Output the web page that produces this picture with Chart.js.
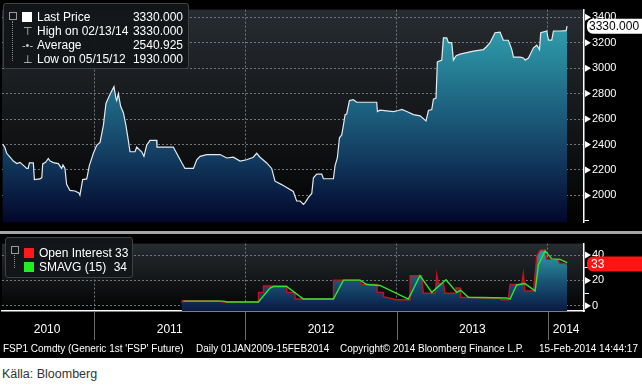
<!DOCTYPE html>
<html lang="sv">
<head>
<meta charset="UTF-8">
<title>FSP1 Comdty</title>
<script src="https://cdn.jsdelivr.net/npm/chart.js@4.4.1/dist/chart.umd.min.js"></script>
<style>
  body { margin: 0; background: #fff; font-family: "Liberation Sans", Arial, sans-serif; }
  #wrap { position: relative; width: 642px; height: 358px; background: #000; overflow: hidden; }
  #top { position: absolute; left: 0; top: 0; }
  #bar { position: absolute; left: 0; top: 231px; width: 642px; height: 3px; background: #a4a4a4; }
  #bottom { position: absolute; left: 0; top: 234px; }
  .legend { position: absolute; background: rgba(19, 22, 25, 0.96); border: 1px solid #3d4247; border-radius: 3px; color: #fff; font-size: 12px; }
  .row { position: absolute; left: 0; right: 0; height: 14px; line-height: 14px; white-space: nowrap; }
  .row .g { position: absolute; left: 17px; width: 13px; text-align: center; color: #c8c8c8; font-size: 11px; }
  .row .sq { position: absolute; left: 18px; top: 2px; width: 10px; height: 10px; }
  .row .t { position: absolute; left: 33px; }
  .row .v { position: absolute; right: 5px; }
  .tree { position: absolute; left: 8px; width: 6px; border-left: 1px dotted #8a8a8a; }
  .box { position: absolute; left: 5px; width: 6px; height: 6px; border: 1px solid #9a9a9a; }
  #foot { position: absolute; left: 0; top: 342px; width: 642px; height: 14px; color: #fff; font-size: 10px; line-height: 14px; white-space: nowrap; }
  #foot span { position: absolute; top: 0; }
  #src { position: absolute; left: 2px; top: 367px; font-size: 12.5px; color: #333; }
</style>
</head>
<body>
<div id="wrap">
  <canvas id="top" width="642" height="232"></canvas>
  <div id="bar"></div>
  <canvas id="bottom" width="642" height="107"></canvas>

  <div class="legend" style="left:3px; top:3px; width:184px; height:64px;">
    <div class="box" style="top:8px;"></div>
    <div class="tree" style="top:17px; height:40px;"></div>
    <div class="row" style="top:6px;"><span class="sq" style="background:#fff;"></span><span class="t">Last Price</span><span class="v">3330.000</span></div>
    <div class="row" style="top:20px;"><span class="g">⊤</span><span class="t">High on 02/13/14</span><span class="v">3330.000</span></div>
    <div class="row" style="top:34px;"><span class="g">-•-</span><span class="t">Average</span><span class="v">2540.925</span></div>
    <div class="row" style="top:48px;"><span class="g">⊥</span><span class="t">Low on 05/15/12</span><span class="v">1930.000</span></div>
  </div>

  <div class="legend" style="left:5px; top:237px; width:126px; height:39px;">
    <div class="box" style="top:8px;"></div>
    <div class="tree" style="top:17px; height:13px;"></div>
    <div class="row" style="top:8px;"><span class="sq" style="background:#ff1a1a;"></span><span class="t">Open Interest 33</span></div>
    <div class="row" style="top:22px;"><span class="sq" style="background:#22ee22;"></span><span class="t">SMAVG (15)</span><span class="v">34</span></div>
  </div>

  <div id="foot">
    <span style="left:3px;">FSP1 Comdty (Generic 1st 'FSP' Future)</span>
    <span style="left:196px;">Daily 01JAN2009-15FEB2014</span>
    <span style="left:340px;">Copyright© 2014 Bloomberg Finance L.P.</span>
    <span style="right:4px;">15-Feb-2014 14:44:17</span>
  </div>
</div>
<div id="src">Källa: Bloomberg</div>

<script>
  // time is kept as fractional years
  const xMin = 2010.392;
  const xMax = 2014.238;
  const yearStarts = [2011, 2012, 2013, 2014];
  const yearLabelAt = [2010.69, 2011.5, 2012.5, 2013.5, 2014.12];

  // FSP1 last price
  const priceYears = [
    2010.396, 2010.410, 2010.423, 2010.445, 2010.467, 2010.490, 2010.511, 2010.530, 2010.555, 2010.565,
    2010.573, 2010.599, 2010.606, 2010.643, 2010.655, 2010.661, 2010.680, 2010.698, 2010.710, 2010.731,
    2010.764, 2010.786, 2010.795, 2010.808, 2010.819, 2010.841, 2010.874, 2010.900, 2010.907, 2010.925,
    2010.952, 2010.969, 2010.996, 2011.018, 2011.040, 2011.062, 2011.079, 2011.106, 2011.132, 2011.145,
    2011.150, 2011.161, 2011.176, 2011.194, 2011.211, 2011.227, 2011.238, 2011.271, 2011.282, 2011.315,
    2011.330, 2011.348, 2011.370, 2011.414, 2011.416, 2011.524, 2011.546, 2011.579, 2011.601, 2011.657,
    2011.679, 2011.701, 2011.745, 2011.833, 2011.877, 2011.921, 2011.965, 2012.009, 2012.053, 2012.075,
    2012.097, 2012.141, 2012.174, 2012.196, 2012.240, 2012.273, 2012.317, 2012.339, 2012.362, 2012.384,
    2012.395, 2012.417, 2012.439, 2012.450, 2012.472, 2012.505, 2012.516, 2012.582, 2012.593, 2012.608,
    2012.622, 2012.637, 2012.648, 2012.659, 2012.670, 2012.688, 2012.714, 2012.736, 2012.868, 2012.873,
    2012.890, 2012.934, 2012.978, 2013.012, 2013.034, 2013.067, 2013.111, 2013.155, 2013.194, 2013.210,
    2013.232, 2013.243, 2013.260, 2013.269, 2013.298, 2013.309, 2013.331, 2013.342, 2013.364, 2013.375,
    2013.393, 2013.419, 2013.463, 2013.507, 2013.573, 2013.595, 2013.617, 2013.650, 2013.683, 2013.705,
    2013.738, 2013.761, 2013.772, 2013.816, 2013.838, 2013.849, 2013.871, 2013.904, 2013.926, 2013.944,
    2013.952, 2013.992, 2014.003, 2014.025, 2014.036, 2014.080, 2014.120, 2014.126
  ];
  const priceValues = [
    2404, 2380, 2331, 2300, 2270, 2250, 2260, 2240, 2212, 2212,
    2255, 2255, 2124, 2130, 2140, 2248, 2260, 2290, 2270, 2258,
    2250, 2212, 2240, 2212, 2088, 2039, 2035, 2020, 2002, 2124,
    2130, 2234, 2331, 2394, 2416, 2550, 2722, 2795, 2854, 2760,
    2745, 2800, 2700, 2650, 2550, 2430, 2343, 2343, 2380, 2343,
    2307, 2394, 2433, 2433, 2380, 2380, 2331, 2258, 2212, 2212,
    2280, 2307, 2321, 2321, 2294, 2300, 2270, 2280, 2300, 2331,
    2300, 2255, 2212, 2112, 2085, 2063, 2031, 1956, 1956, 1930,
    1944, 1985, 2015, 2139, 2168, 2168, 2131, 2131, 2234, 2294,
    2453, 2475, 2550, 2635, 2640, 2745, 2752, 2732, 2732, 2659,
    2670, 2664, 2659, 2667, 2675, 2659, 2635, 2625, 2586, 2667,
    2675, 2757, 2765, 3049, 3063, 3238, 3238, 3200, 3200, 3063,
    3097, 3110, 3122, 3134, 3146, 3170, 3200, 3278, 3283, 3219,
    3219, 3146, 3087, 3087, 3080, 3063, 3080, 3160, 3180, 3146,
    3278, 3292, 3220, 3220, 3292, 3292, 3295, 3330
  ];
  const priceMajor = [2000, 2200, 2400, 2600, 2800, 3000, 3200, 3400];
  const priceMinor = [1800, 1900, 2100, 2300, 2500, 2700, 2900, 3100, 3300];

  // open interest and its 15 day moving average
  const oiYears = [
    2011.579, 2011.583, 2011.833, 2011.844, 2012.086, 2012.087, 2012.119, 2012.120, 2012.273, 2012.274,
    2012.328, 2012.329, 2012.582, 2012.583, 2012.758, 2012.765, 2012.870, 2012.871, 2012.912, 2012.913,
    2013.000, 2013.088, 2013.089, 2013.165, 2013.176, 2013.255, 2013.265, 2013.276, 2013.309, 2013.320,
    2013.386, 2013.392, 2013.419, 2013.423, 2013.474, 2013.683, 2013.690, 2013.738, 2013.749, 2013.826,
    2013.837, 2013.848, 2013.904, 2013.926, 2013.948, 2013.981, 2013.992, 2014.069, 2014.075, 2014.126
  ];
  const oiValues = [
    2.5, 4.1, 4.1, 3.0, 3.0, 10.6, 10.6, 15.6, 15.6, 10.6,
    10.6, 5.3, 5.3, 20.2, 20.2, 16.8, 16.8, 10.6, 10.6, 7.1,
    4.8, 4.8, 23.7, 23.7, 9.9, 9.9, 24.6, 17.5, 17.5, 9.9,
    9.9, 14.0, 14.0, 6.7, 6.5, 6.0, 4.8, 4.8, 16.8, 16.8,
    25.5, 11.7, 11.7, 39.3, 43.9, 43.9, 36.6, 36.6, 33.6, 33
  ];
  const smaYears = [
    2011.590, 2011.855, 2011.877, 2012.086, 2012.163, 2012.185, 2012.273, 2012.383, 2012.582, 2012.648,
    2012.758, 2012.802, 2012.890, 2013.077, 2013.154, 2013.232, 2013.326, 2013.397, 2013.423, 2013.474,
    2013.727, 2013.749, 2013.793, 2013.848, 2013.915, 2013.937, 2013.981, 2014.025, 2014.080, 2014.126
  ];
  const smaValues = [
    3.7, 3.7, 3.0, 3.0, 14.0, 15.2, 15.2, 5.3, 5.3, 20.2,
    20.2, 16.8, 16.0, 5.3, 23.7, 10.6, 20.5, 10.6, 12.2, 6.7,
    6.2, 5.3, 16.4, 17.5, 11.7, 32.4, 43.4, 37.0, 36.6, 34
  ];
  const oiMajor = [0, 20, 40];
  const oiMinor = [10, 30];

  const GRID = '#6f767c';
  Chart.defaults.font.family = '"Liberation Sans", Arial, sans-serif';
  Chart.defaults.font.size = 11;
  Chart.defaults.color = '#ffffff';

  const pts = (xs, ys) => xs.map((x, i) => ({ x: x, y: ys[i] }));

  function vGradient(stops) {
    return function (c) {
      const a = c.chart.chartArea;
      if (!a) return 'transparent';
      const g = c.chart.ctx.createLinearGradient(0, a.top, 0, a.bottom);
      stops.forEach(s => g.addColorStop(s[0], s[1]));
      return g;
    };
  }

  // panel background, tick arrows, year separators and last value tag
  const panel = {
    id: 'panel',
    beforeDraw(chart) {
      const { ctx, chartArea: a, width, height } = chart;
      ctx.save();
      ctx.fillStyle = '#000';
      ctx.fillRect(0, 0, width, height);
      const g = ctx.createLinearGradient(0, a.top, 0, a.bottom);
      g.addColorStop(0, '#272c31');
      g.addColorStop(0.55, '#131517');
      g.addColorStop(1, '#020202');
      ctx.fillStyle = g;
      ctx.fillRect(a.left, a.top, a.right - a.left, a.bottom - a.top);
      ctx.restore();
    },
    afterDraw(chart, args, o) {
      const { ctx, chartArea: a, height } = chart;
      const ys = chart.scales.y;
      ctx.save();
      ctx.fillStyle = '#fff';
      o.major.forEach(v => {
        const p = ys.getPixelForValue(v);
        ctx.beginPath();
        ctx.moveTo(a.right + 1, p - 3.5);
        ctx.lineTo(a.right + 7, p);
        ctx.lineTo(a.right + 1, p + 3.5);
        ctx.closePath();
        ctx.fill();
      });
      if (o.separators) {
        const xs = chart.scales.x;
        ctx.strokeStyle = '#6a6a6a';
        ctx.lineWidth = 1;
        yearStarts.forEach(v => {
          const p = Math.round(xs.getPixelForValue(v)) + 0.5;
          ctx.beginPath();
          ctx.moveTo(p, a.bottom + 1);
          ctx.lineTo(p, height - 1);
          ctx.stroke();
        });
      }
      const p = ys.getPixelForValue(o.tagValue);
      ctx.fillStyle = o.tagBg;
      ctx.beginPath();
      ctx.roundRect(a.right + 3, p - 7.5, 70, 15, 6);
      ctx.fill();
      ctx.fillStyle = o.tagColor;
      ctx.font = '12px "Liberation Sans", Arial, sans-serif';
      ctx.textBaseline = 'middle';
      ctx.fillText(o.tagText, a.right + o.tagPad, p + 0.5);
      ctx.restore();
    }
  };

  function valueAxis(min, max, major, minor, width) {
    return {
      position: 'right',
      min: min,
      max: max,
      afterBuildTicks: s => { s.ticks = major.concat(minor).sort((p, q) => p - q).map(v => ({ value: v })); },
      afterFit: s => { s.width = width; },
      ticks: {
        padding: 3,
        callback: v => (major.includes(v) ? String(v) : '')
      },
      grid: {
        color: c => (c.tick && major.includes(c.tick.value) ? GRID : 'transparent'),
        tickColor: c => (c.tick && major.includes(c.tick.value) ? 'transparent' : '#fff'),
        tickLength: 5
      },
      border: { display: true, color: '#fff', width: 1.5, dash: [2, 2] }
    };
  }

  new Chart(document.getElementById('top'), {
    type: 'line',
    data: {
      datasets: [{
        data: pts(priceYears, priceValues),
        borderColor: '#e4ebee',
        borderWidth: 1.2,
        pointRadius: 0,
        tension: 0,
        fill: 'start',
        backgroundColor: vGradient([[0, '#38a8b8'], [0.17, '#2b90a2'], [0.5, '#1b5b7b'], [0.7, '#123a5f'], [1, '#02062a']])
      }]
    },
    options: {
      responsive: false,
      animation: false,
      devicePixelRatio: 1,
      layout: { padding: { left: 2, top: 2, right: 0, bottom: 1 } },
      plugins: {
        legend: { display: false },
        tooltip: { enabled: false },
        panel: { major: priceMajor, tagValue: 3330, tagText: '3330.000', tagBg: '#fff', tagColor: '#000', tagPad: 5 }
      },
      scales: {
        x: {
          type: 'linear',
          min: xMin,
          max: xMax,
          afterBuildTicks: s => { s.ticks = yearStarts.map(v => ({ value: v })); },
          afterFit: s => { s.height = 0; },
          ticks: { display: false },
          grid: { color: GRID, drawTicks: false },
          border: { display: false, dash: [2, 2] }
        },
        y: valueAxis(1788, 3460, priceMajor, priceMinor, 58)
      }
    },
    plugins: [panel]
  });

  new Chart(document.getElementById('bottom'), {
    type: 'line',
    data: {
      datasets: [{
        label: 'SMAVG (15)',
        data: pts(smaYears, smaValues),
        borderColor: '#2ee62e',
        borderWidth: 1.4,
        pointRadius: 0,
        tension: 0,
        fill: false
      }, {
        label: 'Open Interest',
        data: pts(oiYears, oiValues),
        borderColor: '#c8101e',
        borderWidth: 1.4,
        pointRadius: 0,
        tension: 0,
        fill: 'start',
        backgroundColor: vGradient([[0, '#32a0b0'], [0.2, '#2a8c9f'], [0.55, '#1a5576'], [1, '#0a1a44']])
      }]
    },
    options: {
      responsive: false,
      animation: false,
      devicePixelRatio: 1,
      layout: { padding: { left: 2, top: 0, right: 0, bottom: 0 } },
      plugins: {
        legend: { display: false },
        tooltip: { enabled: false },
        panel: { major: oiMajor, separators: true, tagValue: 33, tagText: '33', tagBg: '#ff1414', tagColor: '#fff', tagPad: 7 }
      },
      scales: {
        x: {
          type: 'linear',
          min: xMin,
          max: xMax,
          afterBuildTicks: s => { s.ticks = yearStarts.concat(yearLabelAt).sort((p, q) => p - q).map(v => ({ value: v })); },
          afterFit: s => { s.height = 30; },
          ticks: {
            autoSkip: false,
            maxRotation: 0,
            padding: 3,
            font: { size: 12 },
            callback: v => (yearLabelAt.includes(v) ? String(Math.floor(v)) : '')
          },
          grid: {
            color: c => (c.tick && yearStarts.includes(c.tick.value) ? GRID : 'transparent'),
            tickColor: 'transparent',
            tickLength: 8
          },
          border: { display: true, color: '#fff', width: 1.5, dash: [2, 2] }
        },
        y: valueAxis(-4.1, 49, oiMajor, oiMinor, 58)
      }
    },
    plugins: [panel]
  });
</script>
</body>
</html>
